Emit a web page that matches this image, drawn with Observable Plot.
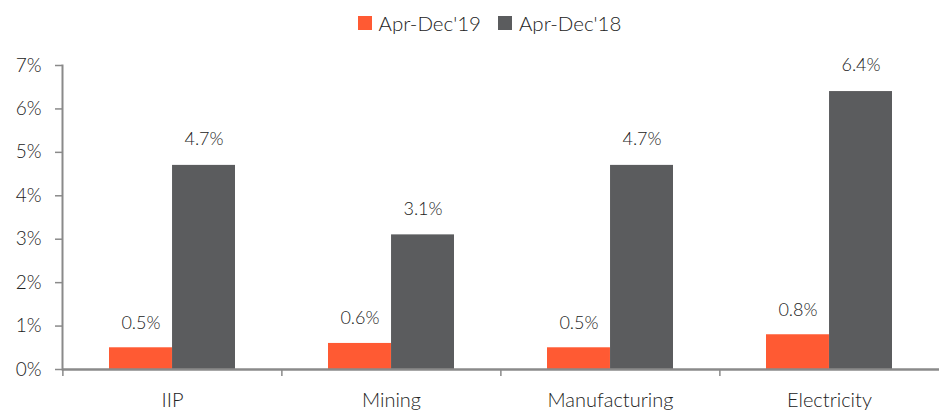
<!DOCTYPE html>
<html>
<head>
<meta charset="utf-8">
<script src="https://cdn.jsdelivr.net/npm/d3@7"></script>
<script src="https://cdn.jsdelivr.net/npm/@observablehq/plot@0.6"></script>
<style>
  body { margin: 0; background: #fff; font-family: Lato, "Open Sans", sans-serif; font-weight: 300; }
  #legend { height: 45px; display: flex; justify-content: center; align-items: center; gap: 17px; font-size: 20.5px; color: #222; padding-left: 40px; box-sizing: border-box; }
  #legend .item { display: flex; align-items: center; gap: 7px; }
  #legend .sw { width: 14px; height: 14px; display: inline-block; }
</style>
</head>
<body>
<div id="legend"></div>
<div id="chart"></div>
<script>
const categories = ["IIP", "Mining", "Manufacturing", "Electricity"];
const seriesNames = ["Apr-Dec'19", "Apr-Dec'18"];
const values2019 = [0.005, 0.006, 0.005, 0.008];
const values2018 = [0.047, 0.031, 0.047, 0.064];
const yTicks = [0, 0.01, 0.02, 0.03, 0.04, 0.05, 0.06, 0.07];
const colors = ["#FF5A33", "#5B5C5E"];

const rows19 = categories.map((c, i) => ({category: c, value: values2019[i]}));
const rows18 = categories.map((c, i) => ({category: c, value: values2018[i]}));

const legend = document.getElementById("legend");
seriesNames.forEach((s, i) => {
  const it = document.createElement("span");
  it.className = "item";
  it.innerHTML = `<span class="sw" style="background:${colors[i]}"></span><span>${s}</span>`;
  legend.appendChild(it);
});

const width = 939, height = 367, mL = 62, mR = 0;
const step = (width - mL - mR) / categories.length;
const bandwidth = step * 0.575;
const fmt = d3.format(".1%");

const chart = Plot.plot({
  width, height,
  marginLeft: mL, marginRight: mR, marginTop: 20, marginBottom: 43,
  style: {fontSize: "18px", fontFamily: "Lato, 'Open Sans', sans-serif", fontWeight: 300, color: "#222"},
  x: {domain: categories, paddingInner: 0.425, paddingOuter: 0.2125, axis: null, label: null},
  y: {domain: [0, 0.07], axis: null, label: null},
  marks: [
    Plot.barY(rows19, {x: "category", y: "value", fill: colors[0], insetRight: bandwidth / 2}),
    Plot.barY(rows18, {x: "category", y: "value", fill: colors[1], insetLeft: bandwidth / 2}),
    Plot.text(rows19, {x: "category", y: "value", text: d => fmt(d.value), dx: -bandwidth / 4, dy: -25, fill: "#222", fontSize: 18}),
    Plot.text(rows18, {x: "category", y: "value", text: d => fmt(d.value), dx: bandwidth / 4, dy: -26, fill: "#222", fontSize: 18}),
    Plot.axisY({ticks: yTicks, tickFormat: d3.format(".0%"), tickSize: 7, tickPadding: 14, stroke: "#8a8a8a", fill: "#222", strokeWidth: 1.5, label: null, fontSize: 19}),
    Plot.frame({anchor: "left", stroke: "#8a8a8a", strokeWidth: 2}),
    Plot.ruleY([0], {stroke: "#8a8a8a", strokeWidth: 2.5}),
    Plot.axisX({tickSize: 0, tickPadding: 23, fill: "#222", label: null, fontSize: 20}),
    Plot.axisX({tickSize: 7, tickFormat: () => "", dx: -step / 2, stroke: "#8a8a8a", strokeWidth: 1.5, label: null})
  ]
});
document.getElementById("chart").appendChild(chart);
</script>
</body>
</html>
